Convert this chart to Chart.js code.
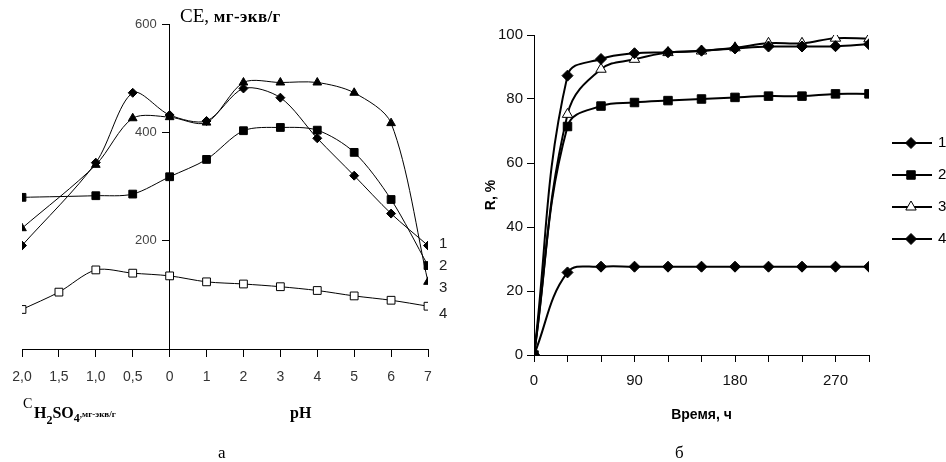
<!DOCTYPE html>
<html>
<head>
<meta charset="utf-8">
<script src="https://cdn.jsdelivr.net/npm/chart.js@4/dist/chart.umd.min.js"></script>
<style>
  html,body{margin:0;padding:0;background:#fff;}
  #wrap{position:relative;width:946px;height:462px;overflow:hidden;background:#fff;}
  .lbl{position:absolute;white-space:nowrap;color:#000;line-height:1;}
  canvas{position:absolute;top:0;}
</style>
</head>
<body>
<div id="wrap">
  <canvas id="cA" width="470" height="462" style="left:0"></canvas>
  <canvas id="cB" width="466" height="462" style="left:480px"></canvas>

  <div class="lbl" style="left:180px;top:6px;font-family:'Liberation Serif',serif;font-size:19px;">CE, <span style="font-weight:bold;font-size:17px;letter-spacing:0.4px;">мг-экв/г</span></div>

  <div class="lbl" style="left:439px;top:234px;font:15px 'Liberation Sans',sans-serif;color:#222;">1</div>
  <div class="lbl" style="left:439px;top:256px;font:15px 'Liberation Sans',sans-serif;color:#222;">2</div>
  <div class="lbl" style="left:439px;top:278px;font:15px 'Liberation Sans',sans-serif;color:#222;">3</div>
  <div class="lbl" style="left:439px;top:304px;font:15px 'Liberation Sans',sans-serif;color:#222;">4</div>

  <div class="lbl" style="left:23px;top:397px;font-family:'Liberation Serif',serif;font-size:14px;">C</div>
  <div class="lbl" style="left:34px;top:405px;font-family:'Liberation Serif',serif;font-weight:bold;font-size:16px;">H<span style="font-size:12px;position:relative;top:6px;">2</span>SO<span style="font-size:12px;position:relative;top:4px;">4</span><span style="font-size:9px;position:relative;top:-1px;">,мг-экв/г</span></div>
  <div class="lbl" style="left:290px;top:405px;font-family:'Liberation Serif',serif;font-weight:bold;font-size:16px;">pH</div>
  <div class="lbl" style="left:218px;top:444px;font-family:'Liberation Serif',serif;font-size:17px;">а</div>
  <div class="lbl" style="left:675px;top:444px;font-family:'Liberation Serif',serif;font-size:17px;">б</div>
</div>
<script>
// ---------- Panel a data ----------
const phCats = ['2,0','1,5','1,0','0,5','0','1','2','3','4','5','6','7'];
const ce1 = [191, null, 344, 473, 432, 421, 481, 464, 389, 320, 250, 191];
const ce2 = [280, null, 283, 286, 318, 350, 403, 409, 404, 363, 276, 154];
const ce3 = [223, null, 340, 426, 428, 418, 492, 492, 492, 473, 417, 124];
const ce4 = [73, 105, 146, 140, 135, 124, 120, 115, 108, 98, 90, 79];
const ceTicks = [200, 400, 600];

// ---------- Panel б data ----------
const hours = [0, 30, 60, 90, 120, 150, 180, 210, 240, 270, 300];
const r1 = [0, 87.3, 92.5, 94.3, 94.6, 95.1, 95.8, 96.4, 96.4, 96.5, 97.1];
const r2 = [0, 71.4, 77.8, 78.9, 79.5, 80.0, 80.5, 80.9, 80.9, 81.6, 81.6];
const r3 = [0, 75.2, 89.3, 92.4, 94.5, 95.0, 96.0, 97.4, 97.4, 99.0, 98.8];
const r4 = [0, 25.8, 27.6, 27.6, 27.6, 27.6, 27.6, 27.6, 27.6, 27.6, 27.6];
const seriesNames = ['1', '2', '3', '4'];

function ptsIdx(arr){ return arr.map((v,i)=> v==null ? null : {x:i, y:v}).filter(Boolean); }
function ptsX(xs, arr){ return arr.map((v,i)=> ({x:xs[i], y:v})); }

const tickFont = {family:"'Liberation Sans', Arial, sans-serif", size:13};
const CROSS_INDEX = phCats.indexOf('0');

// y labels for the centred axis, drawn from the library's scales
const centerYLabels = {
  id:'centerYLabels',
  afterDraw(chart){
    const ctx = chart.ctx, ys = chart.scales.y, xs = chart.scales.x;
    const ax = xs.getPixelForValue(CROSS_INDEX);
    ctx.save();
    ctx.font = "13px 'Liberation Sans', Arial, sans-serif";
    ctx.fillStyle = '#444';
    ctx.textAlign = 'right'; ctx.textBaseline = 'middle';
    ceTicks.forEach(v => ctx.fillText(String(v), ax - 13, ys.getPixelForValue(v)));
    ctx.restore();
  }
};

// ---------- Chart a ----------
function dsA(label, arr, style, radius, fill){
  return {label, data: ptsIdx(arr), borderColor:'#000', borderWidth:1,
    pointStyle:style, pointRadius:radius, pointBackgroundColor:fill, pointBorderColor:'#000',
    pointBorderWidth:1, tension:0.3, fill:false};
}
new Chart(document.getElementById('cA'), {
  type:'line',
  data:{ datasets:[
    dsA('1', ce1, 'rectRot', 4.5, '#000'),
    dsA('2', ce2, 'rect', 5.5, '#000'),
    dsA('3', ce3, 'triangle', 5, '#000'),
    dsA('4', ce4, 'rect', 5.5, '#fff')
  ]},
  options:{
    responsive:false, animation:false,
    layout:{padding:{left:22, right:42, top:24, bottom:73}},
    plugins:{legend:{display:false}, tooltip:{enabled:false}},
    scales:{
      x:{type:'linear', position:'bottom', min:0, max:phCats.length-1,
        afterBuildTicks:(s)=>{ s.ticks = phCats.map((c,i)=>({value:i})); },
        afterFit:(s)=>{ s.height = 40; },
        ticks:{callback:(v)=>phCats[v], font:{...tickFont, size:14}, color:'#333', padding:12, maxRotation:0, autoSkip:false},
        grid:{drawOnChartArea:false, drawTicks:true, tickLength:8, color:'#000'},
        border:{display:true, color:'#000', width:1}
      },
      y:{type:'linear', position:{x:CROSS_INDEX}, min:0, max:600,
        afterBuildTicks:(s)=>{ s.ticks = ceTicks.map(v=>({value:v})); },
        ticks:{display:false},
        grid:{drawOnChartArea:false, drawTicks:true, tickLength:7, color:'#000'},
        border:{display:true, color:'#000', width:1}
      }
    }
  },
  plugins:[centerYLabels]
});

// ---------- Chart б ----------
const legendPlugin = {
  id:'sideLegend',
  afterDraw(chart){
    const ctx = chart.ctx;
    const x0 = 412, x1 = 452, xm = 431, y0 = 143, dy = 32;
    chart.data.datasets.forEach((ds, i)=>{
      const y = y0 + i*dy;
      ctx.save();
      ctx.strokeStyle = '#000'; ctx.lineWidth = 2;
      ctx.beginPath(); ctx.moveTo(x0, y); ctx.lineTo(x1, y); ctx.stroke();
      ctx.fillStyle = ds.pointBackgroundColor; ctx.strokeStyle = '#000'; ctx.lineWidth = 1;
      Chart.helpers.drawPoint(ctx, {pointStyle: ds.pointStyle, radius: ds.pointRadius, rotation:0, borderWidth:1}, xm, y);
      ctx.fillStyle = '#000';
      ctx.font = "15px 'Liberation Sans', Arial, sans-serif";
      ctx.textBaseline = 'middle'; ctx.textAlign = 'left';
      ctx.fillText(seriesNames[i], x1 + 6, y);
      ctx.restore();
    });
  }
};
function dsB(label, arr, style, radius, fill){
  return {label, data: ptsX(hours, arr), borderColor:'#000', borderWidth:2,
    pointStyle:style, pointRadius:radius, pointBackgroundColor:fill, pointBorderColor:'#000',
    pointBorderWidth:1, tension:0.4, fill:false};
}
new Chart(document.getElementById('cB'), {
  type:'line',
  data:{ datasets:[
    dsB('1', r1, 'rectRot', 5.5, '#000'),
    dsB('2', r2, 'rect', 6, '#000'),
    dsB('3', r3, 'triangle', 6, '#fff'),
    dsB('4', r4, 'rectRot', 5.5, '#000')
  ]},
  options:{
    responsive:false, animation:false,
    layout:{padding:{left:0, right:77, top:35, bottom:37}},
    plugins:{legend:{display:false}, tooltip:{enabled:false}},
    scales:{
      x:{type:'linear', position:'bottom', min:0, max:300,
        afterFit:(s)=>{ s.height = 70; },
        ticks:{stepSize:30, callback:(v)=> (v % 90 === 0 ? v : ''), font:{...tickFont, size:15}, color:'#111', padding:10, maxRotation:0, autoSkip:false},
        grid:{drawOnChartArea:false, drawTicks:true, tickLength:7, color:'#000'},
        border:{display:true, color:'#000', width:1},
        title:{display:true, text:'Время, ч', font:{family:"'Liberation Sans', Arial, sans-serif", size:14, weight:'bold'}, color:'#000', padding:{top:0, bottom:1}}
      },
      y:{type:'linear', position:'left', min:0, max:100,
        afterFit:(s)=>{ s.width = 54; },
        ticks:{stepSize:20, font:{...tickFont, size:15}, color:'#111', padding:4},
        grid:{drawOnChartArea:false, drawTicks:true, tickLength:7, color:'#000'},
        border:{display:true, color:'#000', width:1},
        title:{display:true, text:'R, %', font:{family:"'Liberation Sans', Arial, sans-serif", size:14, weight:'bold'}, color:'#000', padding:{top:3, bottom:0}}
      }
    }
  },
  plugins:[legendPlugin]
});
</script>
</body>
</html>
